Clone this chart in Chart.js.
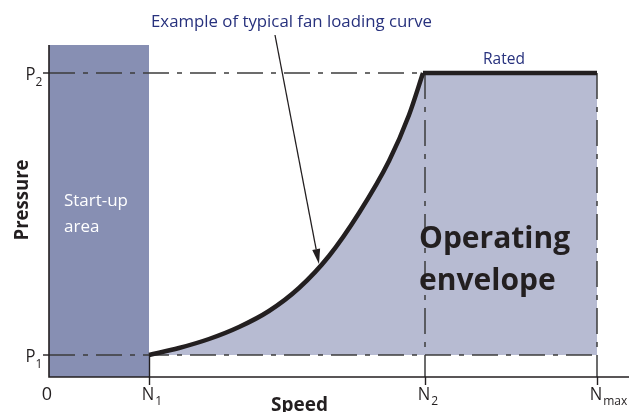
<!DOCTYPE html>
<html>
<head>
<meta charset="utf-8">
<script src="https://cdn.jsdelivr.net/npm/chart.js@4/dist/chart.umd.min.js"></script>
<style>
  html, body { margin: 0; padding: 0; background: #fff; }
  #grafica { display: block; }
</style>
</head>
<body>
<canvas id="grafica" width="629" height="412"></canvas>
<script>
/* Datos (unidades relativas: velocidad 0..580, presion 0..332) */

// marcas del eje x
const xTickValues = [0, 100, 376, 548];
const xTickLabels = ['0', 'N', 'N', 'N'];
const xTickSubs = ['', '1', '2', 'max'];

// marcas del eje y
const yTickValues = [22, 304];
const yTickLabels = ['P', 'P'];
const yTickSubs = ['1', '2'];

// curva tipica de carga del ventilador
const curveSpeed = [100, 130, 160, 190, 220, 250, 280, 310, 340, 360, 374];
const curvePressure = [22, 29, 38, 50, 66, 89, 121, 164, 216, 262, 304];

// tramo nominal (Rated)
const ratedSpeed = [374, 548];
const ratedPressure = [304, 304];

// zona de arranque
const startupSpeed = [0, 100];
const startupPressure = [332, 332];

// flecha de la anotacion (cola, punta)
const arrowSpeed = [226, 270];
const arrowPressure = [342, 113];

const negro = '#231f20';
const azul = '#27317d';
const gris = '#3c3c3c';
const dashDot = [26, 8, 5, 8];

function puntos(xs, ys) {
    return xs.map((x, i) => ({x: x, y: ys[i]}));
}

function texto(ctx, s, x, y, font, color, align, maxW) {
    ctx.font = font;
    ctx.fillStyle = color;
    ctx.textAlign = align || 'left';
    ctx.textBaseline = 'alphabetic';
    if (maxW) ctx.fillText(s, x, y, maxW);
    else ctx.fillText(s, x, y);
}

// dibuja ejes, etiquetas y anotaciones
const decoracion = {
    id: 'decoracion',
    afterDatasetsDraw(chart) {
        const ctx = chart.ctx;
        const xs = chart.scales.x;
        const ys = chart.scales.y;
        const area = chart.chartArea;
        ctx.save();

        // ejes
        ctx.strokeStyle = negro;
        ctx.lineWidth = 1.6;
        ctx.beginPath();
        ctx.moveTo(area.left, area.top);
        ctx.lineTo(area.left, area.bottom);
        ctx.lineTo(area.right, area.bottom);
        ctx.stroke();

        // marcas eje x
        ctx.lineWidth = 1.4;
        xTickValues.forEach((v, i) => {
            if (i === 0) return;
            let px = Math.round(xs.getPixelForValue(v)) + 0.5;
            ctx.beginPath();
            ctx.moveTo(px, i === 1 ? ys.getPixelForValue(yTickValues[0]) : area.bottom);
            ctx.lineTo(px, area.bottom + 8);
            ctx.stroke();
        });
        // marcas eje y
        yTickValues.forEach(v => {
            let py = ys.getPixelForValue(v);
            ctx.beginPath();
            ctx.moveTo(area.left - 6, py);
            ctx.lineTo(area.left, py);
            ctx.stroke();
        });

        // etiquetas eje x
        xTickValues.forEach((v, i) => {
            let px = xs.getPixelForValue(v);
            ctx.font = '18px "Open Sans"';
            let w = Math.min(ctx.measureText(xTickLabels[i]).width, 12.5);
            let cx = px - (i === 0 ? 2 : 1);
            texto(ctx, xTickLabels[i], cx, area.bottom + 23, '18px "Open Sans"', negro, 'center', 12.5);
            if (xTickSubs[i]) {
                texto(ctx, xTickSubs[i], cx + w / 2 + 1, area.bottom + 28, '12px "Open Sans"', negro, 'left');
            }
        });
        // etiquetas eje y
        yTickValues.forEach((v, i) => {
            let py = ys.getPixelForValue(v);
            texto(ctx, yTickLabels[i], area.left - 13.5, py + 7, '18px "Open Sans"', negro, 'right', 10);
            texto(ctx, yTickSubs[i], area.left - 13.5, py + 13, '12px "Open Sans"', negro, 'left');
        });

        // titulos de ejes
        texto(ctx, 'Speed', 299.5, 411, 'bold 19px "Open Sans"', negro, 'center', 65);
        ctx.save();
        ctx.translate(28, 200);
        ctx.rotate(-Math.PI / 2);
        texto(ctx, 'Pressure', 0, 0, 'bold 19px "Open Sans"', negro, 'center', 81);
        ctx.restore();

        // textos internos
        texto(ctx, 'Start-up', 64, 206, '17px "Open Sans"', '#ffffff', 'left', 64);
        texto(ctx, 'area', 64, 232, '17px "Open Sans"', '#ffffff', 'left');
        texto(ctx, 'Operating', 419, 248, 'bold 30px "Open Sans"', negro, 'left', 157);
        texto(ctx, 'envelope', 419, 290, 'bold 30px "Open Sans"', negro, 'left', 142);
        let rx = (xs.getPixelForValue(ratedSpeed[0]) + xs.getPixelForValue(ratedSpeed[1])) / 2 - 6;
        texto(ctx, 'Rated', rx, ys.getPixelForValue(ratedPressure[0]) - 9, '15.5px "Open Sans"', azul, 'center', 44);
        texto(ctx, 'Example of typical fan loading curve', 151, 27, '17px "Open Sans"', azul, 'left', 281);

        // flecha
        let x0 = xs.getPixelForValue(arrowSpeed[0]), y0 = ys.getPixelForValue(arrowPressure[0]);
        let x1 = xs.getPixelForValue(arrowSpeed[1]), y1 = ys.getPixelForValue(arrowPressure[1]);
        let ang = Math.atan2(y1 - y0, x1 - x0);
        let largo = 15, ancho = 4;
        let bx = x1 - largo * Math.cos(ang), by = y1 - largo * Math.sin(ang);
        ctx.strokeStyle = negro;
        ctx.lineWidth = 1.3;
        ctx.beginPath();
        ctx.moveTo(x0, y0);
        ctx.lineTo(bx, by);
        ctx.stroke();
        ctx.fillStyle = negro;
        ctx.beginPath();
        ctx.moveTo(x1, y1);
        ctx.lineTo(bx + ancho * Math.sin(ang), by - ancho * Math.cos(ang));
        ctx.lineTo(bx - ancho * Math.sin(ang), by + ancho * Math.cos(ang));
        ctx.closePath();
        ctx.fill();

        ctx.restore();
    }
};

function lineaGuia(xs, ys) {
    return {
        data: puntos(xs, ys),
        borderColor: gris,
        borderWidth: 1.5,
        borderDash: dashDot,
        pointRadius: 0,
        fill: false,
        clip: false
    };
}

const ctx = document.getElementById('grafica').getContext('2d');
const grafica = new Chart(ctx, {
    type: 'line',
    data: {
        datasets: [{
            // curva de carga
            data: puntos(curveSpeed, curvePressure),
            borderColor: negro,
            borderWidth: 4.5,
            cubicInterpolationMode: 'monotone',
            backgroundColor: '#b7bbd2',
            fill: {value: yTickValues[0]},
            pointRadius: 0
        }, {
            // tramo nominal
            data: puntos(ratedSpeed, ratedPressure),
            borderColor: negro,
            borderWidth: 4.5,
            borderCapStyle: 'butt',
            backgroundColor: '#b7bbd2',
            fill: {value: yTickValues[0]},
            pointRadius: 0
        },
        lineaGuia([0, xTickValues[2]], [yTickValues[1], yTickValues[1]]),
        lineaGuia([0, xTickValues[3]], [yTickValues[0], yTickValues[0]]),
        lineaGuia([xTickValues[2], xTickValues[2]], [yTickValues[1], 0]),
        lineaGuia([xTickValues[3], xTickValues[3]], [yTickValues[1], 0]),
        {
            // zona de arranque
            data: puntos(startupSpeed, startupPressure),
            borderWidth: 0,
            backgroundColor: '#878fb3',
            fill: 'start',
            pointRadius: 0
        }]
    },
    options: {
        responsive: false,
        animation: false,
        events: [],
        layout: {
            padding: {left: 49, top: 45, right: 0, bottom: 35}
        },
        scales: {
            x: {type: 'linear', min: 0, max: 580, display: false},
            y: {type: 'linear', min: 0, max: 332, display: false}
        },
        plugins: {
            legend: {display: false},
            tooltip: {enabled: false},
            filler: {drawTime: 'beforeDatasetsDraw'}
        }
    },
    plugins: [decoracion]
});
</script>
</body>
</html>
